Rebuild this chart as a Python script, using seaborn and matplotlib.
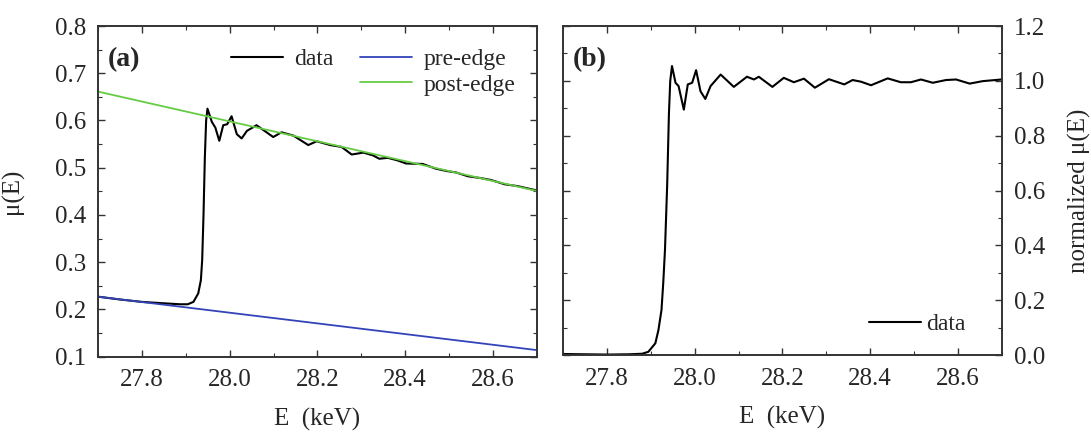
import matplotlib
matplotlib.use("Agg")
import matplotlib.pyplot as plt
from matplotlib.lines import Line2D
from matplotlib.ticker import MultipleLocator
import seaborn as sns
import pandas as pd

# panel (a): raw absorption mu(E)
energy_a = [27.70, 27.75, 27.80, 27.85, 27.886, 27.904, 27.917, 27.928, 27.934,
            27.937, 27.940, 27.943, 27.946, 27.949, 27.959, 27.967, 27.976, 27.985,
            27.994, 28.004, 28.016, 28.027, 28.039, 28.061, 28.099, 28.118, 28.145,
            28.179, 28.198, 28.229, 28.255, 28.278, 28.305, 28.327, 28.341, 28.360,
            28.381, 28.402, 28.440, 28.470, 28.495, 28.516, 28.543, 28.573, 28.596,
            28.627, 28.657, 28.700]
mu_a = [0.227, 0.221, 0.216, 0.213, 0.211, 0.211, 0.216, 0.234, 0.262,
        0.305, 0.40, 0.52, 0.60, 0.625, 0.597, 0.585, 0.557, 0.590,
        0.592, 0.609, 0.571, 0.562, 0.578, 0.590, 0.565, 0.575, 0.568,
        0.548, 0.556, 0.548, 0.544, 0.528, 0.532, 0.526, 0.519, 0.521,
        0.516, 0.509, 0.508, 0.498, 0.493, 0.490, 0.482, 0.478, 0.474,
        0.465, 0.461, 0.452]

# straight pre-edge and post-edge fits (end points)
edge_e = [27.7, 28.7]
pre_edge = [0.227, 0.114]
post_edge = [0.661, 0.451]

# panel (b): normalized mu(E)
energy_b = [27.70, 27.75, 27.80, 27.85, 27.88, 27.894, 27.910, 27.917, 27.924,
            27.928, 27.932, 27.937, 27.941, 27.944, 27.948, 27.956, 27.963, 27.975,
            27.984, 27.994, 28.003, 28.013, 28.024, 28.036, 28.059, 28.089, 28.119,
            28.135, 28.146, 28.177, 28.203, 28.226, 28.249, 28.274, 28.306, 28.341,
            28.360, 28.379, 28.402, 28.440, 28.470, 28.493, 28.516, 28.543, 28.573,
            28.596, 28.627, 28.657, 28.700]
mu_b = [0.004, 0.003, 0.002, 0.003, 0.005, 0.012, 0.043, 0.091, 0.164,
        0.262, 0.384, 0.62, 0.88, 1.00, 1.054, 0.993, 0.981, 0.895,
        0.987, 0.993, 1.039, 0.962, 0.934, 0.981, 1.023, 0.978, 1.015,
        1.005, 1.015, 0.978, 1.011, 0.995, 1.008, 0.975, 1.006, 0.987,
        1.003, 0.997, 0.984, 1.009, 0.995, 0.995, 1.005, 0.993, 1.003,
        1.005, 0.990, 0.999, 1.005]

df_a = pd.DataFrame({"E": energy_a, "mu": mu_a})
df_b = pd.DataFrame({"E": energy_b, "mu": mu_b})
df_edges = pd.DataFrame({"E": edge_e, "pre": pre_edge, "post": post_edge})

sns.set_style("ticks")
plt.rcParams["font.family"] = ["Liberation Serif", "DejaVu Serif"]

fs = 18
fig = plt.figure(figsize=(10.91, 4.32), dpi=100)
ax1 = fig.add_axes([0.0901, 0.1743, 0.4018, 0.7655])
ax2 = fig.add_axes([0.5163, 0.1780, 0.4018, 0.7618])

# panel (a)
sns.lineplot(data=df_a, x="E", y="mu", ax=ax1, color="black", lw=1.5,
             estimator=None, sort=False)
sns.lineplot(data=df_edges, x="E", y="pre", ax=ax1, color="#3344bb", lw=1.3,
             estimator=None)
sns.lineplot(data=df_edges, x="E", y="post", ax=ax1, color="#66cc44", lw=1.3,
             estimator=None)
ax1.set_xlim(27.7, 28.7)
ax1.set_ylim(0.1, 0.8)
ax1.yaxis.set_major_locator(MultipleLocator(0.1))
ax1.yaxis.set_minor_locator(MultipleLocator(0.05))
ax1.set_ylabel("μ(E)", fontsize=fs, labelpad=22)
ax1.text(0.022, 0.935, "(a)", transform=ax1.transAxes, fontsize=20,
         fontweight="bold", va="top")

handles = [Line2D([], [], color="black", lw=1.5),
           Line2D([], [], color="none"),
           Line2D([], [], color="#3344bb", lw=1.3),
           Line2D([], [], color="#66cc44", lw=1.3)]
ax1.legend(handles, ["data", "", "pre-edge", "post-edge"], ncol=2,
           loc="upper right", bbox_to_anchor=(1.0, 0.995), frameon=False,
           fontsize=17, handlelength=2.2, handletextpad=0.5,
           columnspacing=1.1, labelspacing=0.15)

# panel (b)
sns.lineplot(data=df_b, x="E", y="mu", ax=ax2, color="black", lw=1.5,
             estimator=None, sort=False, label="data")
ax2.set_xlim(27.7, 28.7)
ax2.set_ylim(0.0, 1.2)
ax2.yaxis.set_major_locator(MultipleLocator(0.2))
ax2.yaxis.set_minor_locator(MultipleLocator(0.1))
ax2.yaxis.tick_right()
ax2.yaxis.set_label_position("right")
ax2.set_ylabel("normalized μ(E)", fontsize=fs, labelpad=16)
ax2.text(0.022, 0.935, "(b)", transform=ax2.transAxes, fontsize=20,
         fontweight="bold", va="top")
ax2.legend(loc="lower right", bbox_to_anchor=(0.965, -0.005), frameon=False,
           fontsize=17, handlelength=2.2, handletextpad=0.2)

for ax in (ax1, ax2):
    ax.xaxis.set_major_locator(MultipleLocator(0.2))
    ax.xaxis.set_minor_locator(MultipleLocator(0.1))
    ax.set_xticks([27.8, 28.0, 28.2, 28.4, 28.6])
    ax.set_xticklabels(["27.8", "28.0", "28.2", "28.4", "28.6"])
    ax.set_xlabel("E  (keV)", fontsize=fs, labelpad=12)
    ax.tick_params(which="both", direction="in", top=True, bottom=True,
                   left=True, right=True, labelsize=18, color="#333333")
    ax.tick_params(which="major", length=5, width=1.0, pad=9)
    ax.tick_params(which="minor", length=3, width=0.8)
    for sp in ax.spines.values():
        sp.set_linewidth(1.4)
        sp.set_color("#333333")

fig.savefig("out.png", dpi=100)
